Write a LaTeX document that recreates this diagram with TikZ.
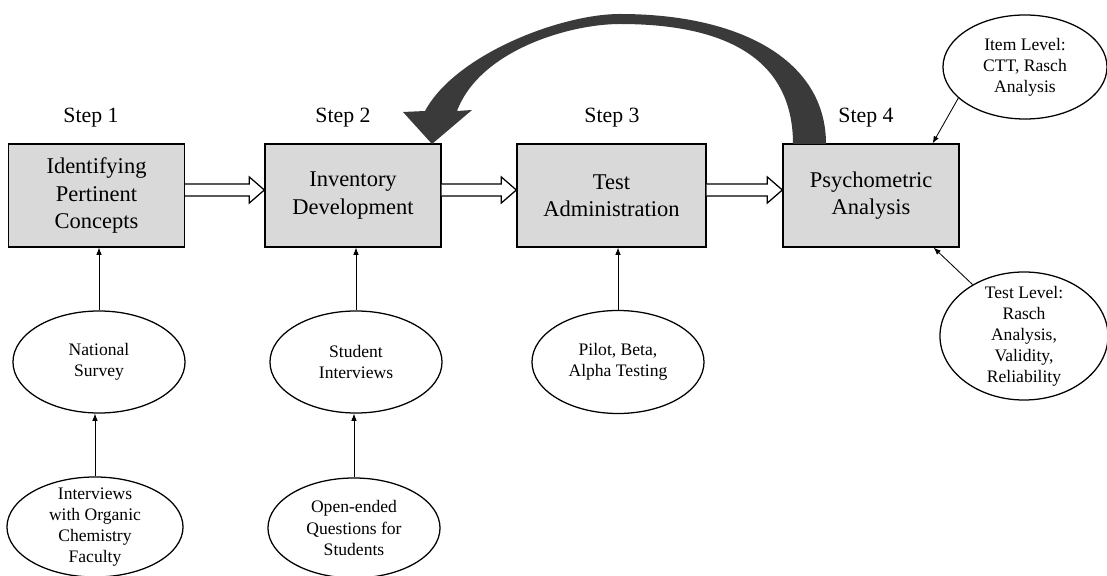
\documentclass[tikz,border=0pt]{standalone}
\usepackage{fontspec}
\setmainfont{Liberation Serif}
\usetikzlibrary{shapes.geometric,arrows.meta,calc}

\definecolor{boxgray}{HTML}{D9D9D9}
\definecolor{loopgray}{HTML}{3A3A3A}

\tikzset{
	stepbox/.style={draw=black, line width=0.9pt, fill=boxgray, minimum width=4.4cm, minimum height=2.575cm, inner sep=0pt, align=center, font=\fontsize{16}{19.5}\selectfont},
	steplabel/.style={inner sep=0pt, font=\fontsize{15.5}{18}\selectfont},
	source/.style={draw=black, line width=0.9pt, ellipse, inner sep=-6pt, minimum width=4.3cm, minimum height=2.55cm, align=center, font=\fontsize{12.5}{15}\selectfont},
	feed/.style={line width=0.6pt, -{Latex[length=1.8mm,width=1.4mm]}}
}

% hollow block arrow between two steps
\newcommand{\openarrow}[2]{%
	\draw[line width=0.9pt, fill=white]
		($(#1.east)+(0,-11.5)$) -- ($(#2.west)+(-15,-11.5)$) -- ($(#2.west)+(-15,-18.5)$)
		-- ($(#2.west)+(0,-5.5)$) -- ($(#2.west)+(-15,7.5)$) -- ($(#2.west)+(-15,0.5)$)
		-- ($(#1.east)+(0,0.5)$);
}

\begin{document}
\begin{tikzpicture}[x=0.025cm, y=-0.025cm]

	\useasboundingbox (0,0) rectangle (1107,576);

	\node[stepbox] (concepts) at (96.5,195.5) {Identifying\\Pertinent\\Concepts};
	\node[stepbox] (inventory) at (353,195.5) {Inventory\\Development};
	\node[stepbox, minimum width=4.725cm] (testing) at (611.5,195.5) {Test\\Administration};
	\node[stepbox] (analysis) at (871,195.5) {Psychometric\\Analysis};

	\node[steplabel] (step1) at (91,118) {Step 1};
	\node[steplabel] (step2) at (343,118) {Step 2};
	\node[steplabel] (step3) at (612,118) {Step 3};
	\node[steplabel] (step4) at (866,118) {Step 4};

	\node[source] (survey) at (99,362) {National\\Survey};
	\node[source, minimum width=4.4cm, minimum height=2.5cm] (faculty) at (95,527) {Interviews\\with Organic\\Chemistry\\Faculty};
	\node[source] (students) at (356,362) {Student\\Interviews};
	\node[source, minimum height=2.5cm] (questions) at (354,528) {Open-ended\\Questions for\\Students};
	\node[source, minimum height=2.575cm] (pilot) at (618,362) {Pilot, Beta,\\Alpha Testing};
	\node[source, minimum width=4.1cm, minimum height=2.6cm] (itemlevel) at (1025,67) {Item Level:\\CTT, Rasch\\Analysis};
	\node[source, minimum width=4.2cm, minimum height=3.2cm] (testlevel) at (1024,336) {Test Level:\\Rasch\\Analysis,\\Validity,\\Reliability};

	\openarrow{concepts}{inventory}
	\openarrow{inventory}{testing}
	\openarrow{testing}{analysis}

	\draw[feed] (survey.north) -- (survey.north |- concepts.south);
	\draw[feed] (faculty.north) -- (faculty.north |- survey.south);
	\draw[feed] (students.north) -- (students.north |- inventory.south);
	\draw[feed] (questions.north) -- (questions.north |- students.south);
	\draw[feed] (pilot.north) -- (pilot.north |- testing.south);
	\draw[feed] (itemlevel.205) -- ([xshift=-0.675cm]analysis.north east);
	\draw[feed] (testlevel.135) -- ([xshift=-0.65cm]analysis.south east);

	% loop back from step 4 to step 2
	\fill[loopgray] (793,144) -- (826,144) .. controls (826,60) and (740,14) .. (620,14)
		.. controls (560,14) and (455,55) .. (425,111) -- (403,112) -- (432,144) -- (472,110) -- (457,111)
		.. controls (480,50) and (570,24) .. (620,24) .. controls (720,24) and (793,55) .. (793,144) -- cycle;

\end{tikzpicture}
\end{document}
